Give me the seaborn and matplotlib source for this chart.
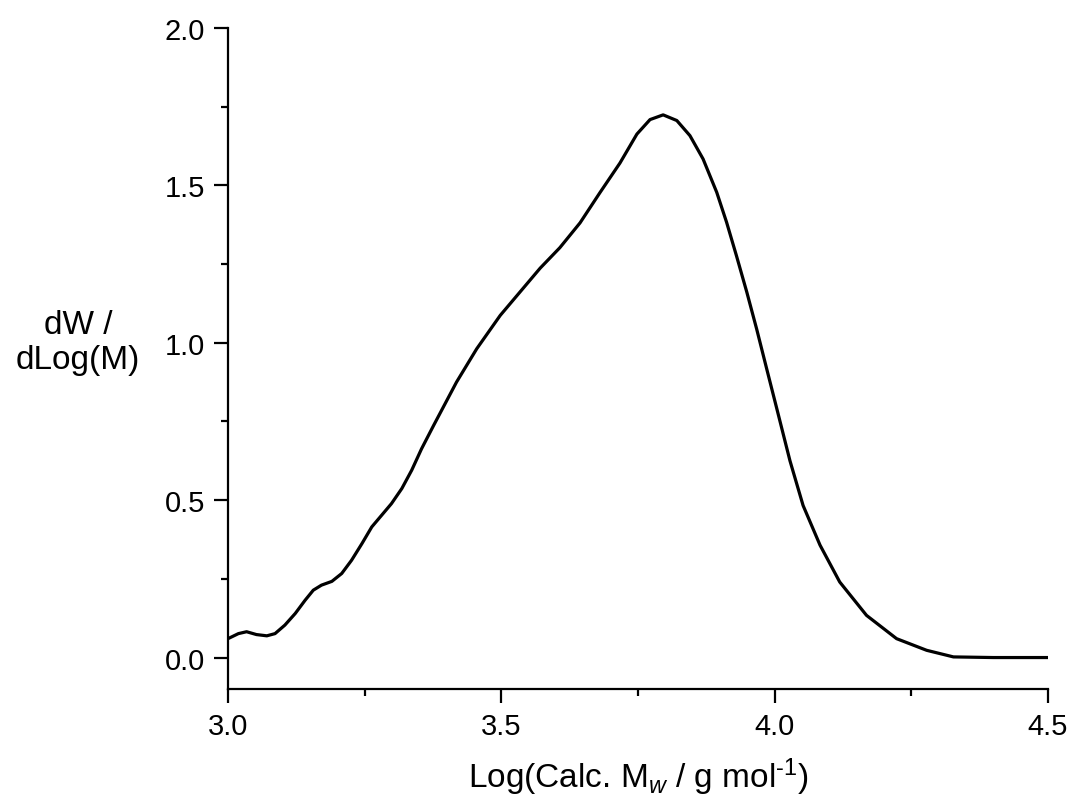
import matplotlib
matplotlib.use("Agg")
import matplotlib.pyplot as plt
import seaborn as sns
import pandas as pd
from matplotlib.ticker import MultipleLocator

log_mw = [3.000, 3.019, 3.034, 3.052, 3.071, 3.086, 3.104, 3.123, 3.141, 3.156, 3.171,
          3.190, 3.208, 3.226, 3.245, 3.263, 3.281, 3.299, 3.318, 3.336, 3.354, 3.376,
          3.418, 3.455, 3.498, 3.534, 3.571, 3.607, 3.644, 3.680, 3.717, 3.748, 3.772,
          3.796, 3.821, 3.845, 3.869, 3.894, 3.912, 3.930, 3.949, 3.967, 3.985, 4.004,
          4.028, 4.052, 4.083, 4.119, 4.168, 4.223, 4.278, 4.327, 4.400, 4.500]
dw_dlogm = [0.060, 0.076, 0.082, 0.073, 0.069, 0.076, 0.103, 0.140, 0.182, 0.214, 0.230,
            0.242, 0.267, 0.309, 0.362, 0.415, 0.452, 0.489, 0.537, 0.595, 0.663, 0.737,
            0.875, 0.981, 1.087, 1.161, 1.237, 1.302, 1.381, 1.476, 1.571, 1.663, 1.709,
            1.724, 1.706, 1.658, 1.584, 1.478, 1.383, 1.277, 1.161, 1.044, 0.920, 0.790,
            0.625, 0.483, 0.357, 0.240, 0.134, 0.060, 0.023, 0.002, 0.000, 0.000]

x_ticks = [3.0, 3.5, 4.0, 4.5]
y_ticks = [0.0, 0.5, 1.0, 1.5, 2.0]

df = pd.DataFrame({"x": log_mw, "y": dw_dlogm})

sns.set_theme(style="ticks")
plt.rcParams["font.family"] = ["Liberation Sans", "DejaVu Sans"]
plt.rcParams["mathtext.fontset"] = "custom"
plt.rcParams["mathtext.rm"] = "Liberation Sans"
plt.rcParams["mathtext.it"] = "Liberation Sans:italic"

fig = plt.figure(figsize=(10.73, 8.03), dpi=100)
ax = fig.add_axes([0.2125, 0.1407, 0.7642, 0.8232])

sns.lineplot(data=df, x="x", y="y", ax=ax, color="black", linewidth=2.3,
             estimator=None, sort=True)
for ln in ax.get_lines():
    ln.set_solid_joinstyle("round")
    ln.set_solid_capstyle("round")

ax.set_xlim(3.0, 4.5)
ax.set_ylim(-0.1, 2.0)
ax.set_xticks(x_ticks)
ax.set_xticklabels([f"{t:.1f}" for t in x_ticks])
ax.set_yticks(y_ticks)
ax.set_yticklabels([f"{t:.1f}" for t in y_ticks])
ax.xaxis.set_minor_locator(MultipleLocator(0.25))
ax.yaxis.set_minor_locator(MultipleLocator(0.25))

for s in ["top", "right"]:
    ax.spines[s].set_visible(False)
for s in ["left", "bottom"]:
    ax.spines[s].set_linewidth(1.6)
    ax.spines[s].set_color("black")

ax.tick_params(which="major", direction="out", length=10, width=1.6, labelsize=21,
               colors="black", pad=6.5)
ax.tick_params(which="minor", direction="out", length=5, width=1.6, colors="black")

ax.set_xlabel(r"Log(Calc. M$_{\mathit{w}}$ / g mol$^{\mathregular{\text{-}1}}$)",
              fontsize=24, color="black", va="baseline")
ax.xaxis.set_label_coords(0.5, -0.148)
ax.set_ylabel("dW /\ndLog(M)", fontsize=24, rotation=0, ha="center", va="center",
              color="black", linespacing=1.15)
ax.yaxis.set_label_coords(-0.183, 0.525)

fig.savefig("out.png", dpi=100, facecolor="white")
